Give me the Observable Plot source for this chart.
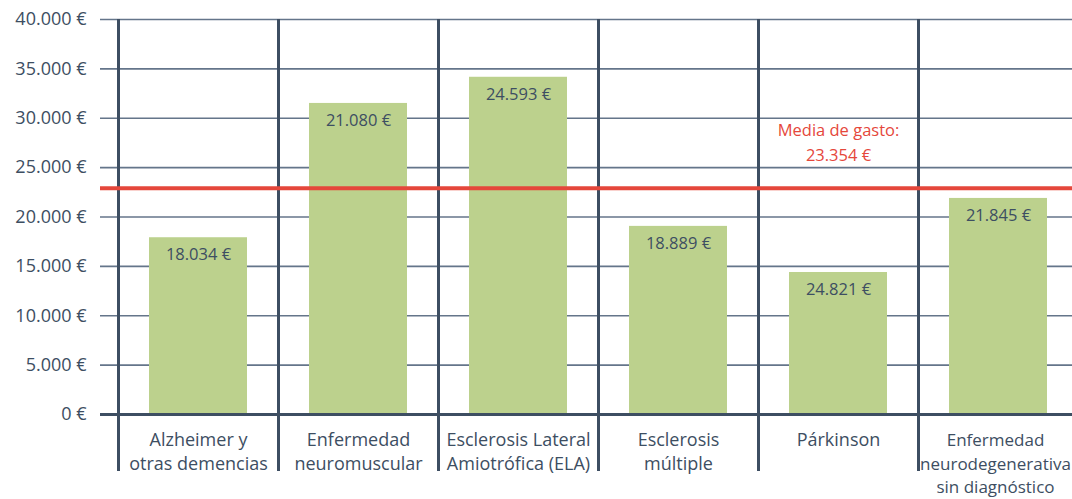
<!DOCTYPE html>
<html>
<head>
<meta charset="utf-8">
<script src="https://cdn.jsdelivr.net/npm/d3@7"></script>
<script src="https://cdn.jsdelivr.net/npm/@observablehq/plot@0.6"></script>
<style>
  html, body { margin: 0; padding: 0; background: #fff; overflow: hidden; }
  #chart svg { display: block; font-family: "Open Sans", sans-serif; }
</style>
</head>
<body>
<div id="chart"></div>
<script>
// Categories (axis labels, with line breaks as in the reference)
const categories = [
  "Alzheimer y\notras demencias",
  "Enfermedad\nneuromuscular",
  "Esclerosis Lateral\nAmiotrófica (ELA)",
  "Esclerosis\nmúltiple",
  "Párkinson",
  "Enfermedad\nneurodegenerativa\nsin diagnóstico"
];
// Bar heights as drawn in the reference (€)
const barHeights = [17900, 31500, 34150, 19050, 14380, 21880];
// Value labels printed inside the bars
const valueLabels = ["18.034 €", "21.080 €", "24.593 €", "18.889 €", "24.821 €", "21.845 €"];
// Average line as drawn, and its label
const meanLine = 22900;
const meanLabel = "Media de gasto:\n23.354 €";
const meanLabelCategory = "Párkinson";
// Y ticks
const yTicks = [0, 5000, 10000, 15000, 20000, 25000, 30000, 35000, 40000];

const data = categories.map((c, i) => ({category: c, value: barHeights[i], label: valueLabels[i]}));

const W = 1072, H = 499;
const mLeft = 118, mTop = 19, mBottom = 85;
const step = 160;
const xRange = [mLeft, mLeft + step * categories.length];

const dark = "#3d4e62";
const grid = "#64758a";
const green = "#bcd18d";
const red = "#e5473b";
const fmt = d => d3.format(",")(d).replace(/,/g, ".") + " €";

const chart = Plot.plot({
  width: W,
  height: H,
  marginLeft: mLeft,
  marginTop: mTop,
  marginBottom: mBottom,
  marginRight: 0,
  style: {fontFamily: "Open Sans, sans-serif", color: dark, background: "white", overflow: "hidden"},
  x: {domain: categories, range: xRange, paddingInner: 0.39, paddingOuter: 0.195, label: null},
  y: {domain: [0, 40000], label: null},
  marks: [
    Plot.ruleY(yTicks.filter(d => d > 0), {y: d => d, stroke: grid, strokeWidth: 1.6, insetLeft: -18}),
    Plot.barY(data, {x: "category", y: "value", fill: green}),
    Plot.ruleX(categories, {x: d => d, dx: -step / 2, stroke: dark, strokeWidth: 3, insetBottom: -57}),
    Plot.ruleY([0], {stroke: dark, strokeWidth: 3, insetLeft: -18}),
    Plot.ruleY([meanLine], {stroke: red, strokeWidth: 4, insetLeft: -18}),
    Plot.axisY({ticks: yTicks, tickFormat: fmt, tickSize: 0, tickPadding: 32, fontSize: 18, fill: dark}),
    Plot.axisX(categories.slice(0, -1), {tickSize: 0, tickPadding: 15, fontSize: 18, lineHeight: 1.3, fill: dark}),
    Plot.axisX(categories.slice(-1), {tickSize: 0, tickPadding: 15, fontSize: 17, lineHeight: 1.38, dx: -3, fill: dark}),
    Plot.text(data, {x: "category", y: "value", text: "label", dy: 17, fontSize: 16.5, fill: dark}),
    Plot.text([meanLabel], {x: () => meanLabelCategory, y: () => meanLine, text: d => d, dy: -48, fontSize: 16.5, lineHeight: 1.5, fill: red})
  ]
});
document.getElementById("chart").appendChild(chart);
</script>
</body>
</html>
